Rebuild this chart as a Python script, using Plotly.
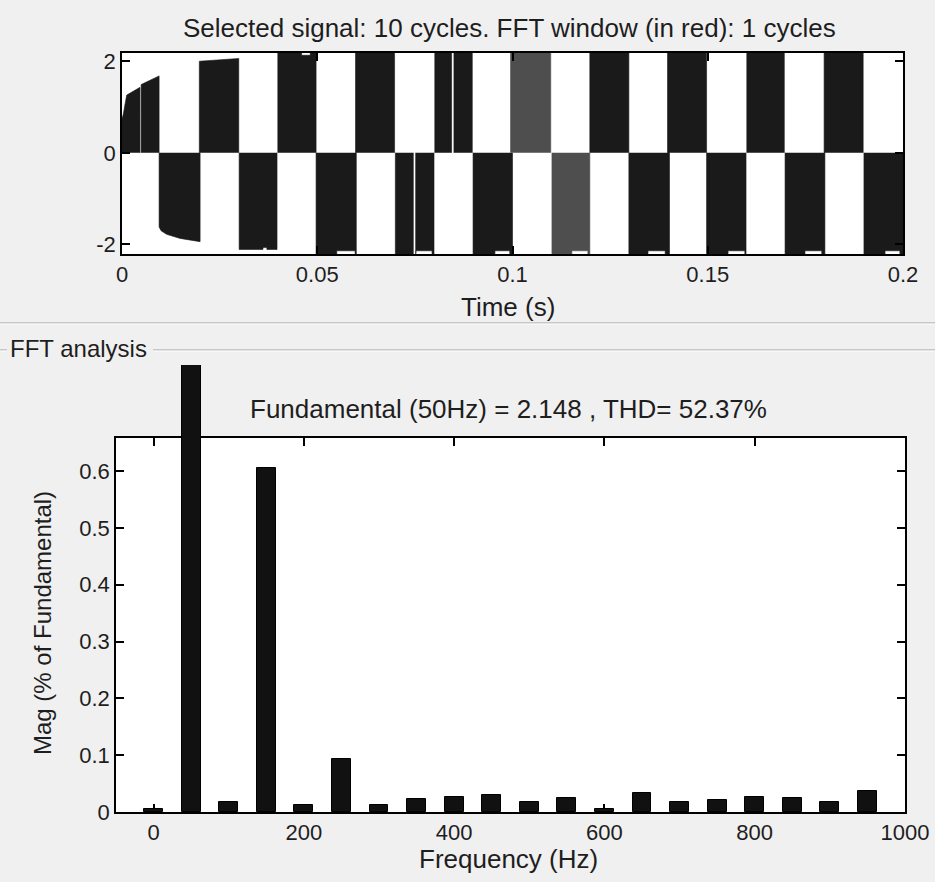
import plotly.graph_objects as go

W, H = 935, 882

# ---- Selected signal (time domain) ----------------------------------------
# Envelope of the switched waveform, one list of (t [s], v) points per half-cycle.
# Values beyond the axis limits are clipped by the plot area.
black_segments = [
    [(0.0, 0.75), (0.0003, 0.83), (0.0012, 1.26), (0.0044, 1.42), (0.0046, 1.43)],
    [(0.0049, 1.49), (0.0095, 1.68)],
    [(0.0095, -1.62), (0.0100, -1.70), (0.0114, -1.78), (0.0149, -1.87), (0.0200, -1.94)],
    [(0.0198, 2.00), (0.0299, 2.06)],
    [(0.0300, -2.11), (0.0361, -2.11), (0.0361, -2.07), (0.0371, -2.07), (0.0371, -2.11), (0.0397, -2.11)],
    [(0.0399, 2.30), (0.0460, 2.30), (0.0460, 2.13), (0.0482, 2.13), (0.0482, 2.30), (0.0497, 2.30)],
    [(0.0497, -2.30), (0.0550, -2.30), (0.0550, -2.14), (0.0597, -2.14), (0.0597, -2.30), (0.0600, -2.30)],
    [(0.0598, 2.30), (0.0698, 2.30)],
    [(0.0700, -2.30), (0.0746, -2.30)],
    [(0.0752, -2.30), (0.0753, -2.30), (0.0753, -2.14), (0.0794, -2.14), (0.0794, -2.30), (0.0799, -2.30)],
    [(0.0801, 2.30), (0.0844, 2.30)],
    [(0.0850, 2.30), (0.0897, 2.30)],
    [(0.0899, -2.30), (0.0955, -2.30), (0.0955, -2.14), (0.0993, -2.14), (0.0993, -2.30), (0.1000, -2.30)],
    [(0.1198, 2.30), (0.1298, 2.30)],
    [(0.1298, -2.30), (0.1347, -2.30), (0.1347, -2.14), (0.1391, -2.14), (0.1391, -2.30), (0.1402, -2.30)],
    [(0.1397, 2.30), (0.1497, 2.30)],
    [(0.1497, -2.30), (0.1552, -2.30), (0.1552, -2.14), (0.1595, -2.14), (0.1595, -2.30), (0.1598, -2.30)],
    [(0.1600, 2.30), (0.1696, 2.30)],
    [(0.1698, -2.30), (0.1749, -2.30), (0.1749, -2.14), (0.1792, -2.14), (0.1792, -2.30), (0.1800, -2.30)],
    [(0.1798, 2.30), (0.1898, 2.30)],
    [(0.1900, -2.30), (0.1954, -2.30), (0.1954, -2.14), (0.1992, -2.14), (0.1992, -2.30), (0.2000, -2.30)],
]
# FFT window (one cycle, 0.1 s .. 0.12 s)
window_segments = [
    [(0.0995, 2.30), (0.1098, 2.30)],
    [(0.1101, -2.30), (0.1152, -2.30), (0.1152, -2.14), (0.1193, -2.14), (0.1193, -2.30), (0.1198, -2.30)],
]

time_ticks = [0, 0.05, 0.1, 0.15, 0.2]
time_tick_text = ["0", "0.05", "0.1", "0.15", "0.2"]
signal_ticks = [-2, 0, 2]
signal_tick_text = ["-2", "0", "2"]

# ---- FFT analysis ----------------------------------------------------------
harm_freq = [0, 50, 100, 150, 200, 250, 300, 350, 400, 450,
             500, 550, 600, 650, 700, 750, 800, 850, 900, 950]
harm_mag = [0.005, 1.0, 0.017, 0.605, 0.012, 0.093, 0.012, 0.023, 0.026, 0.030,
            0.018, 0.024, 0.006, 0.033, 0.018, 0.021, 0.026, 0.024, 0.018, 0.037]
freq_ticks = [0, 200, 400, 600, 800, 1000]
mag_ticks = [0, 0.1, 0.2, 0.3, 0.4, 0.5, 0.6]
mag_tick_text = ["0", "0.1", "0.2", "0.3", "0.4", "0.5", "0.6"]

title_text = "Selected signal: 10 cycles. FFT window (in red): 1 cycles"
fft_text = "Fundamental (50Hz) = 2.148 , THD= 52.37%"


def px(x):
    return x / W


def py(y):
    return 1 - y / H


def polygons(segments):
    xs, ys = [], []
    for seg in segments:
        t0, t1 = seg[0][0], seg[-1][0]
        xs += [t0] + [p[0] for p in seg] + [t1, None]
        ys += [0] + [p[1] for p in seg] + [0, None]
    return xs, ys


FONT = "Liberation Sans, Arial, sans-serif"
TXT = "#1e1e1e"

fig = go.Figure()

bx, by = polygons(black_segments)
fig.add_trace(go.Scatter(x=bx, y=by, mode="lines", fill="toself",
                         fillcolor="#1a1a1a", line=dict(width=0.6, color="#1a1a1a"),
                         xaxis="x", yaxis="y", hoverinfo="skip"))
gx, gy = polygons(window_segments)
fig.add_trace(go.Scatter(x=gx, y=gy, mode="lines", fill="toself",
                         fillcolor="#4e4e4e", line=dict(width=0.6, color="#4e4e4e"),
                         xaxis="x", yaxis="y", hoverinfo="skip"))

# spectrum axes frame (holds the ticks and labels of the FFT plot)
fig.add_trace(go.Scatter(x=[], y=[], mode="markers", xaxis="x2", yaxis="y2",
                         hoverinfo="skip"))
# harmonic bars; drawn on a taller axis with the same scale so the fundamental
# bar runs past the top of the frame
fig.add_trace(go.Bar(x=harm_freq, y=harm_mag, width=25,
                     marker=dict(color="#111111", line=dict(color="#000000", width=1)),
                     xaxis="x3", yaxis="y3"))

# plot-area geometry (pixels)
TOP = dict(l=122, r=903, t=53, b=254)
BOT = dict(l=116, r=905, t=438, b=812)
BAR_TOP = 365
unit_px = (BOT["b"] - 471) / 0.6
mag_max = (BOT["b"] - BOT["t"]) / unit_px
bar_max = (BOT["b"] - BAR_TOP) / unit_px

axis_common = dict(showline=True, linecolor="#000000", linewidth=1.6, mirror="ticks",
                   ticks="inside", ticklen=8, tickwidth=1.6, tickcolor="#000000",
                   showgrid=False, zeroline=False, automargin=False,
                   tickfont=dict(family=FONT, size=22, color=TXT))

fig.update_layout(
    template="none",
    width=W, height=H,
    margin=dict(l=0, r=0, t=0, b=0, pad=0),
    paper_bgcolor="#f0f0f0",
    plot_bgcolor="rgba(0,0,0,0)",
    showlegend=False,
    xaxis=dict(domain=[px(TOP["l"]), px(TOP["r"])], range=[0, 0.2], anchor="y",
               tickvals=time_ticks, ticktext=time_tick_text, ticklabelstandoff=0,
               **axis_common),
    yaxis=dict(domain=[py(TOP["b"]), py(TOP["t"])], range=[-2.21, 2.18], anchor="x",
               tickvals=signal_ticks, ticktext=signal_tick_text, ticklabelstandoff=0,
               **axis_common),
    xaxis2=dict(domain=[px(BOT["l"]), px(BOT["r"])], range=[-50, 1000], anchor="y2",
                tickvals=freq_ticks, ticklabelstandoff=0, **axis_common),
    yaxis2=dict(domain=[py(BOT["b"]), py(BOT["t"])], range=[0, mag_max], anchor="x2",
                tickvals=mag_ticks, ticktext=mag_tick_text, ticklabelstandoff=0,
                **axis_common),
    xaxis3=dict(domain=[px(BOT["l"]), px(BOT["r"])], range=[-50, 1000], anchor="y3",
                visible=False, automargin=False),
    yaxis3=dict(domain=[py(BOT["b"]), py(BAR_TOP)], range=[0, bar_max], anchor="x3",
                visible=False, automargin=False),
    bargap=0,
)

shapes = []
# white plot backgrounds
for box in (TOP, BOT):
    shapes.append(dict(type="rect", xref="paper", yref="paper", layer="below",
                       x0=px(box["l"]), x1=px(box["r"]), y0=py(box["b"]), y1=py(box["t"]),
                       fillcolor="#ffffff", line=dict(width=0)))
# panel separator and group-box frame
for (x0, x1, y) in [(0, 935, 323), (0, 7, 350), (153, 935, 350)]:
    shapes.append(dict(type="line", xref="paper", yref="paper",
                       x0=px(x0), x1=px(x1), y0=py(y), y1=py(y),
                       line=dict(color="#a0a0a0", width=1)))
    shapes.append(dict(type="line", xref="paper", yref="paper",
                       x0=px(x0), x1=px(x1), y0=py(y + 1), y1=py(y + 1),
                       line=dict(color="#ffffff", width=1)))
fig.update_layout(shapes=shapes)


def label(text, x, y, size, angle=0, xanchor="center"):
    fig.add_annotation(text=text, xref="paper", yref="paper", x=px(x), y=py(y),
                       xanchor=xanchor, yanchor="middle", showarrow=False, textangle=angle,
                       font=dict(family=FONT, size=size, color=TXT))


label(title_text, 510, 28, 26)
label("Time (s)", 508, 307, 26)
label("FFT analysis", 8, 349, 24, xanchor="left")
label(fft_text, 508, 409, 26)
label("Frequency (Hz)", 508, 859, 26)
label("Mag (% of Fundamental)", 42, 623, 24, angle=-90)

fig.write_html("out.html")
